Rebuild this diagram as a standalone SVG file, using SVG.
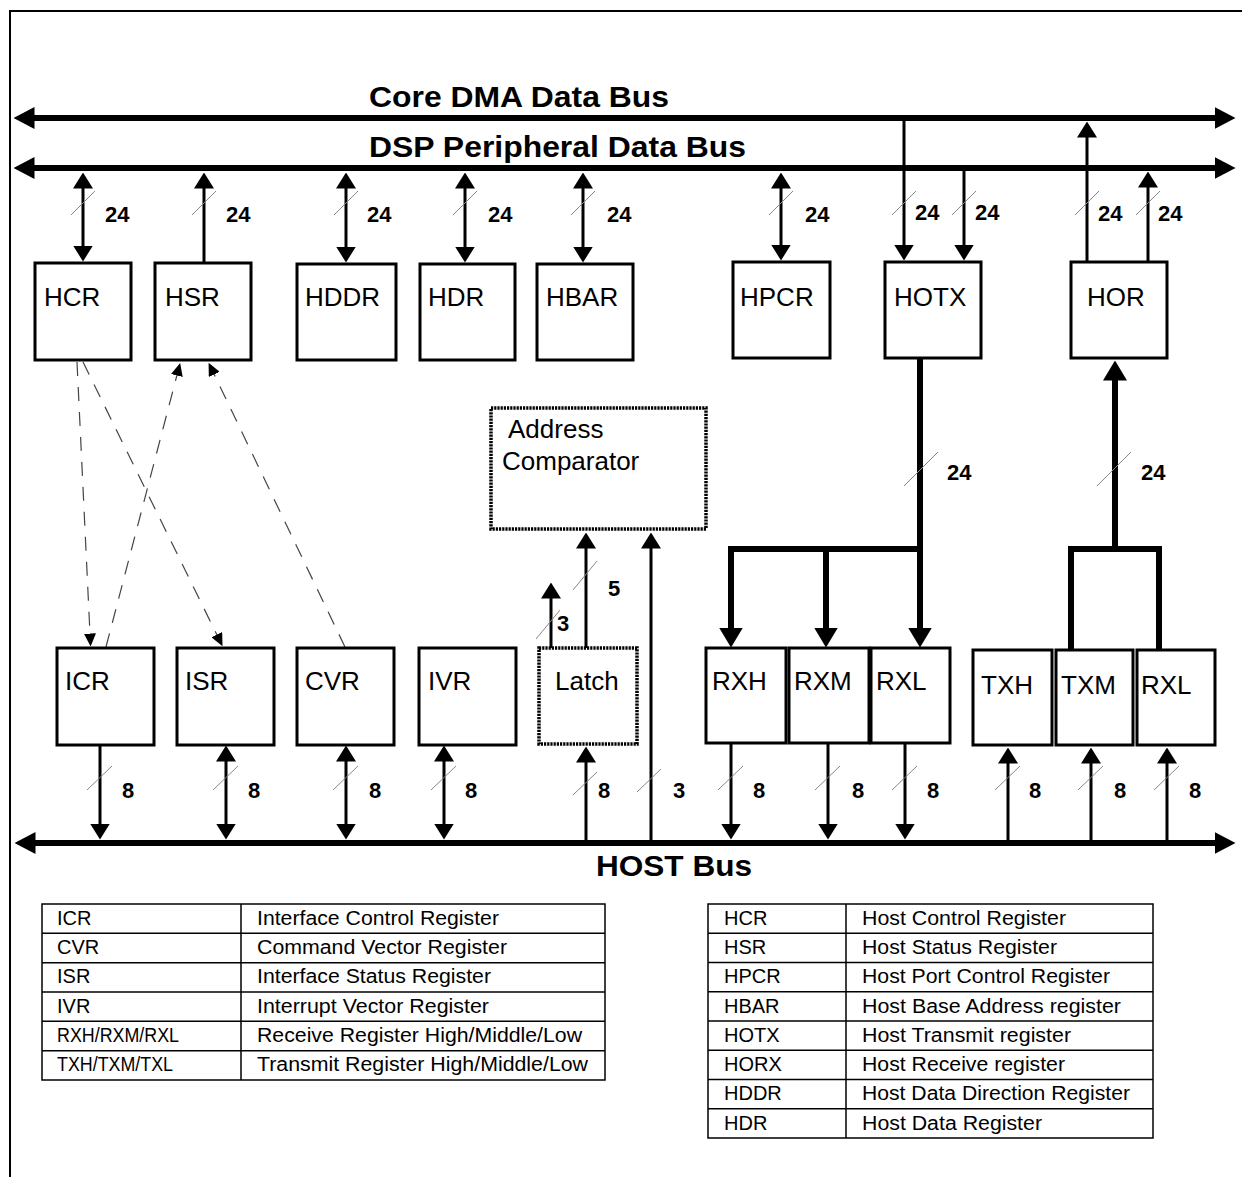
<svg xmlns="http://www.w3.org/2000/svg" width="1242" height="1177" viewBox="0 0 1242 1177">
<style>
.box{fill:#fff;stroke:#000;stroke-width:3}
.hatch{fill:#fff;stroke:#000;stroke-width:3.5;stroke-dasharray:2.2 1}
.lbl{font-family:"Liberation Sans",Arial,sans-serif;font-size:26px;fill:#000}
.num{font-family:"Liberation Sans",Arial,sans-serif;font-size:22px;font-weight:bold;fill:#000}
.bus{font-family:"Liberation Sans",Arial,sans-serif;font-size:29px;font-weight:bold;fill:#000}
.tbl{font-family:"Liberation Sans",Arial,sans-serif;font-size:20px;fill:#000}
.bl{fill:none;stroke:#000;stroke-width:6}
.ln{fill:none;stroke:#000;stroke-width:3}
.tk{fill:none;stroke:#000;stroke-width:6}
.ds{fill:none;stroke:#444;stroke-width:1.2;stroke-dasharray:14 11}
.sl{stroke:#888;stroke-width:1}
.tb{fill:none;stroke:#000;stroke-width:1.5}
</style>
<defs>
<marker id="ah" viewBox="0 0 16 20" markerWidth="16" markerHeight="20" refX="0.5" refY="10" markerUnits="userSpaceOnUse" orient="auto-start-reverse"><path d="M0,0 L16,10 L0,20 z" fill="#000"/></marker>
<marker id="ahb" viewBox="0 0 21 22" markerWidth="21" markerHeight="22" refX="0.5" refY="11" markerUnits="userSpaceOnUse" orient="auto-start-reverse"><path d="M0,0 L21,11 L0,22 z" fill="#000"/></marker>
<marker id="aht" viewBox="0 0 20 24" markerWidth="20" markerHeight="24" refX="0.5" refY="12" markerUnits="userSpaceOnUse" orient="auto-start-reverse"><path d="M0,0 L20,12 L0,24 z" fill="#000"/></marker>
<marker id="ahd" viewBox="0 0 13 12" markerWidth="13" markerHeight="12" refX="0.5" refY="6" markerUnits="userSpaceOnUse" orient="auto-start-reverse"><path d="M0,0 L13,6 L0,12 z" fill="#000"/></marker>
</defs>
<rect width="1242" height="1177" fill="#fff"/>
<g id="frame"><path d="M10,1177 V11 H1242" fill="none" stroke="#000" stroke-width="2"/></g>

<g id="buses">
<path class="bl" d="M34,118 H1215" marker-start="url(#ahb)" marker-end="url(#ahb)"/>
<path class="bl" d="M34,168 H1215" marker-start="url(#ahb)" marker-end="url(#ahb)"/>
<path class="bl" d="M35,843 H1215" marker-start="url(#ahb)" marker-end="url(#ahb)"/>
<text class="bus" x="369" y="107" textLength="300" lengthAdjust="spacingAndGlyphs">Core DMA Data Bus</text>
<text class="bus" x="369" y="157" textLength="377" lengthAdjust="spacingAndGlyphs">DSP Peripheral Data Bus</text>
<text class="bus" x="596" y="876" textLength="156" lengthAdjust="spacingAndGlyphs">HOST Bus</text>
</g>

<g id="connectors">
<path class="ln" d="M83,188 V246" marker-start="url(#ah)" marker-end="url(#ah)"/>
<path class="ln" d="M204,263 V188" marker-end="url(#ah)"/>
<path class="ln" d="M346,188 V247" marker-start="url(#ah)" marker-end="url(#ah)"/>
<path class="ln" d="M465,188 V247" marker-start="url(#ah)" marker-end="url(#ah)"/>
<path class="ln" d="M583,188 V247" marker-start="url(#ah)" marker-end="url(#ah)"/>
<path class="ln" d="M781,188 V245" marker-start="url(#ah)" marker-end="url(#ah)"/>
<path class="ln" d="M904,118 V245" marker-end="url(#ah)"/>
<path class="ln" d="M964,165 V245" marker-end="url(#ah)"/>
<path class="ln" d="M1087,262 V137" marker-end="url(#ah)"/>
<path class="ln" d="M1148,262 V187" marker-end="url(#ah)"/>
<path class="tk" d="M920,358 V549 M728,549 H923"/>
<path class="tk" d="M731,549 V628" marker-end="url(#aht)"/>
<path class="tk" d="M826,549 V628" marker-end="url(#aht)"/>
<path class="tk" d="M920,549 V628" marker-end="url(#aht)"/>
<path class="tk" d="M1115,549 V380" marker-end="url(#aht)"/>
<path class="tk" d="M1071,650 V549 H1159 V650"/>
<path class="ds" d="M77,362 L90,634" marker-end="url(#ahd)"/>
<path class="ds" d="M83,362 L217,635" marker-end="url(#ahd)"/>
<path class="ds" d="M106,647 L177,375" marker-end="url(#ahd)"/>
<path class="ds" d="M345,647 L214,374" marker-end="url(#ahd)"/>
<path class="ln" d="M551,648 V598" marker-end="url(#ah)"/>
<path class="ln" d="M586,648 V548" marker-end="url(#ah)"/>
<path class="ln" d="M651,843 V548" marker-end="url(#ah)"/>
<path class="ln" d="M100,745 V824" marker-end="url(#ah)"/>
<path class="ln" d="M226,761 V824" marker-start="url(#ah)" marker-end="url(#ah)"/>
<path class="ln" d="M346,761 V824" marker-start="url(#ah)" marker-end="url(#ah)"/>
<path class="ln" d="M444,761 V824" marker-start="url(#ah)" marker-end="url(#ah)"/>
<path class="ln" d="M586,843 V762" marker-end="url(#ah)"/>
<path class="ln" d="M731,743 V824" marker-end="url(#ah)"/>
<path class="ln" d="M828,743 V824" marker-end="url(#ah)"/>
<path class="ln" d="M905,743 V824" marker-end="url(#ah)"/>
<path class="ln" d="M1008,843 V763" marker-end="url(#ah)"/>
<path class="ln" d="M1091,843 V763" marker-end="url(#ah)"/>
<path class="ln" d="M1167,843 V763" marker-end="url(#ah)"/>
<g class="sl">
<line x1="71" y1="215" x2="95" y2="191"/>
<line x1="192" y1="215" x2="216" y2="191"/>
<line x1="334" y1="215" x2="358" y2="191"/>
<line x1="453" y1="215" x2="477" y2="191"/>
<line x1="571" y1="215" x2="595" y2="191"/>
<line x1="769" y1="215" x2="793" y2="191"/>
<line x1="892" y1="215" x2="916" y2="191"/>
<line x1="952" y1="215" x2="976" y2="191"/>
<line x1="1075" y1="215" x2="1099" y2="191"/>
<line x1="1136" y1="215" x2="1160" y2="191"/>
<line x1="904" y1="486" x2="938" y2="452"/>
<line x1="1097" y1="486" x2="1131" y2="452"/>
<line x1="536" y1="639" x2="560" y2="610"/>
<line x1="573" y1="590" x2="597" y2="561"/>
<line x1="87" y1="790" x2="112" y2="766"/>
<line x1="213" y1="790" x2="238" y2="766"/>
<line x1="333" y1="790" x2="358" y2="766"/>
<line x1="431" y1="790" x2="456" y2="766"/>
<line x1="573" y1="795" x2="597" y2="772"/>
<line x1="637" y1="792" x2="661" y2="769"/>
<line x1="718" y1="790" x2="743" y2="766"/>
<line x1="815" y1="790" x2="840" y2="766"/>
<line x1="892" y1="790" x2="917" y2="766"/>
<line x1="995" y1="790" x2="1020" y2="766"/>
<line x1="1078" y1="790" x2="1103" y2="766"/>
<line x1="1154" y1="790" x2="1179" y2="766"/>
</g>
<text class="num" x="105" y="222">24</text>
<text class="num" x="226" y="222">24</text>
<text class="num" x="367" y="222">24</text>
<text class="num" x="488" y="222">24</text>
<text class="num" x="607" y="222">24</text>
<text class="num" x="805" y="222">24</text>
<text class="num" x="915" y="220">24</text>
<text class="num" x="975" y="220">24</text>
<text class="num" x="1098" y="221">24</text>
<text class="num" x="1158" y="221">24</text>
<text class="num" x="947" y="480">24</text>
<text class="num" x="1141" y="480">24</text>
<text class="num" x="608" y="596">5</text>
<text class="num" x="557" y="631">3</text>
<text class="num" x="122" y="798">8</text>
<text class="num" x="248" y="798">8</text>
<text class="num" x="369" y="798">8</text>
<text class="num" x="465" y="798">8</text>
<text class="num" x="598" y="798">8</text>
<text class="num" x="673" y="798">3</text>
<text class="num" x="753" y="798">8</text>
<text class="num" x="852" y="798">8</text>
<text class="num" x="927" y="798">8</text>
<text class="num" x="1029" y="798">8</text>
<text class="num" x="1114" y="798">8</text>
<text class="num" x="1189" y="798">8</text>
</g>

<g id="HCR"><rect class="box" x="35" y="263" width="96" height="97"/><text class="lbl" x="44" y="306">HCR</text></g>
<g id="HSR"><rect class="box" x="155" y="263" width="96" height="97"/><text class="lbl" x="165" y="306">HSR</text></g>
<g id="HDDR"><rect class="box" x="297" y="264" width="99" height="96"/><text class="lbl" x="305" y="306">HDDR</text></g>
<g id="HDR"><rect class="box" x="420" y="264" width="95" height="96"/><text class="lbl" x="428" y="306">HDR</text></g>
<g id="HBAR"><rect class="box" x="537" y="264" width="96" height="96"/><text class="lbl" x="546" y="306">HBAR</text></g>
<g id="HPCR"><rect class="box" x="733" y="262" width="97" height="96"/><text class="lbl" x="740" y="306">HPCR</text></g>
<g id="HOTX"><rect class="box" x="885" y="262" width="96" height="96"/><text class="lbl" x="894" y="306">HOTX</text></g>
<g id="HOR"><rect class="box" x="1071" y="262" width="96" height="96"/><text class="lbl" x="1087" y="306">HOR</text></g>

<g id="AddressComparator"><rect class="hatch" x="491" y="408" width="215" height="121"/><text class="lbl" x="508" y="438">Address</text><text class="lbl" x="502" y="470">Comparator</text></g>
<g id="Latch"><rect class="hatch" x="539" y="648" width="98" height="96"/><text class="lbl" x="555" y="690">Latch</text></g>

<g id="ICR"><rect class="box" x="57" y="648" width="97" height="97"/><text class="lbl" x="65" y="690">ICR</text></g>
<g id="ISR"><rect class="box" x="177" y="648" width="97" height="97"/><text class="lbl" x="185" y="690">ISR</text></g>
<g id="CVR"><rect class="box" x="297" y="648" width="97" height="97"/><text class="lbl" x="305" y="690">CVR</text></g>
<g id="IVR"><rect class="box" x="419" y="648" width="97" height="97"/><text class="lbl" x="428" y="690">IVR</text></g>
<g id="RXH"><rect class="box" x="706" y="648" width="80" height="95"/><text class="lbl" x="712" y="690">RXH</text></g>
<g id="RXM"><rect class="box" x="789" y="648" width="80" height="95"/><text class="lbl" x="794" y="690">RXM</text></g>
<g id="RXL"><rect class="box" x="871" y="648" width="79" height="95"/><text class="lbl" x="876" y="690">RXL</text></g>
<g id="TXH"><rect class="box" x="973" y="650" width="79" height="95"/><text class="lbl" x="981" y="694">TXH</text></g>
<g id="TXM"><rect class="box" x="1056" y="650" width="77" height="95"/><text class="lbl" x="1061" y="694">TXM</text></g>
<g id="RXL2"><rect class="box" x="1137" y="650" width="78" height="95"/><text class="lbl" x="1141" y="694">RXL</text></g>

<g id="legend-left">
<rect class="tb" x="42" y="904" width="563" height="176"/>
<path class="tb" d="M241,904 V1080 M42,933.3 H605 M42,962.7 H605 M42,992 H605 M42,1021.3 H605 M42,1050.7 H605"/>
<text class="tbl" x="57" y="925">ICR</text><text class="tbl" x="257" y="925" textLength="242" lengthAdjust="spacingAndGlyphs">Interface Control Register</text>
<text class="tbl" x="57" y="954">CVR</text><text class="tbl" x="257" y="954" textLength="250" lengthAdjust="spacingAndGlyphs">Command Vector Register</text>
<text class="tbl" x="57" y="983">ISR</text><text class="tbl" x="257" y="983" textLength="234" lengthAdjust="spacingAndGlyphs">Interface Status Register</text>
<text class="tbl" x="57" y="1013">IVR</text><text class="tbl" x="257" y="1013" textLength="232" lengthAdjust="spacingAndGlyphs">Interrupt Vector Register</text>
<text class="tbl" x="57" y="1042" textLength="122" lengthAdjust="spacingAndGlyphs">RXH/RXM/RXL</text><text class="tbl" x="257" y="1042" textLength="325" lengthAdjust="spacingAndGlyphs">Receive Register High/Middle/Low</text>
<text class="tbl" x="57" y="1071" textLength="116" lengthAdjust="spacingAndGlyphs">TXH/TXM/TXL</text><text class="tbl" x="257" y="1071" textLength="331" lengthAdjust="spacingAndGlyphs">Transmit Register High/Middle/Low</text>
</g>

<g id="legend-right">
<rect class="tb" x="708" y="904" width="445" height="234"/>
<path class="tb" d="M846,904 V1138 M708,933.3 H1153 M708,962.5 H1153 M708,991.8 H1153 M708,1021 H1153 M708,1050.3 H1153 M708,1079.5 H1153 M708,1108.8 H1153"/>
<text class="tbl" x="724" y="925">HCR</text><text class="tbl" x="862" y="925" textLength="204" lengthAdjust="spacingAndGlyphs">Host Control Register</text>
<text class="tbl" x="724" y="954">HSR</text><text class="tbl" x="862" y="954" textLength="195" lengthAdjust="spacingAndGlyphs">Host Status Register</text>
<text class="tbl" x="724" y="983">HPCR</text><text class="tbl" x="862" y="983" textLength="248" lengthAdjust="spacingAndGlyphs">Host Port Control Register</text>
<text class="tbl" x="724" y="1013">HBAR</text><text class="tbl" x="862" y="1013" textLength="259" lengthAdjust="spacingAndGlyphs">Host Base Address register</text>
<text class="tbl" x="724" y="1042">HOTX</text><text class="tbl" x="862" y="1042" textLength="209" lengthAdjust="spacingAndGlyphs">Host Transmit register</text>
<text class="tbl" x="724" y="1071">HORX</text><text class="tbl" x="862" y="1071" textLength="203" lengthAdjust="spacingAndGlyphs">Host Receive register</text>
<text class="tbl" x="724" y="1100">HDDR</text><text class="tbl" x="862" y="1100" textLength="268" lengthAdjust="spacingAndGlyphs">Host Data Direction Register</text>
<text class="tbl" x="724" y="1130">HDR</text><text class="tbl" x="862" y="1130" textLength="180" lengthAdjust="spacingAndGlyphs">Host Data Register</text>
</g>
</svg>
